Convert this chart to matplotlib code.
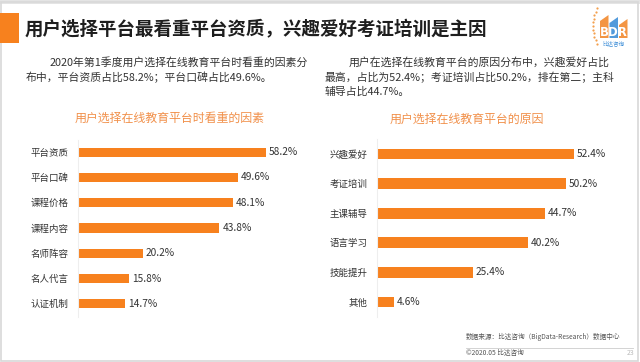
import matplotlib
matplotlib.use('Agg')
import matplotlib.pyplot as plt
from matplotlib.patches import Rectangle, Polygon

plt.rcParams['font.family'] = ['Noto Sans CJK SC', 'DejaVu Sans']

# ---------------- data ----------------
left_title = '用户选择在线教育平台时看重的因素'
left_cats = ['平台资质', '平台口碑', '课程价格', '课程内容', '名师阵容', '名人代言', '认证机制']
left_vals = [58.2, 49.6, 48.1, 43.8, 20.2, 15.8, 14.7]

right_title = '用户选择在线教育平台的原因'
right_cats = ['兴趣爱好', '考证培训', '主课辅导', '语言学习', '技能提升', '其他']
right_vals = [52.4, 50.2, 44.7, 40.2, 25.4, 4.6]

main_title = '用户选择平台最看重平台资质，兴趣爱好考证培训是主因'
left_text = ['2020年第1季度用户选择在线教育平台时看重的因素分',
             '布中，平台资质占比58.2%；平台口碑占比49.6%。']
right_text = ['用户在选择在线教育平台的原因分布中，兴趣爱好占比',
              '最高，占比为52.4%；考证培训占比50.2%，排在第二；主科',
              '辅导占比44.7%。']
source_text = '数据来源：比达咨询（BigData-Research）数据中心'
copy_text = '©2020.05 比达咨询'
page_no = '23'

bar_col = '#F7811E'
title_col = '#F1904A'
text_col = '#333333'

W, H = 640, 362
fig = plt.figure(figsize=(6.4, 3.62), dpi=100)
fig.patch.set_facecolor('white')

def px(x, y):
    return x / W, 1 - y / H

def add_ax(left, top, width, height):
    return fig.add_axes([left / W, 1 - (top + height) / H, width / W, height / H])

# frame / header
fig.patches.append(Rectangle((0, 1 - 4 / H), 1, 4 / H, transform=fig.transFigure,
                             facecolor='#E4E4E4', edgecolor='none'))
fig.patches.append(Rectangle((0.5 / W, 1.5 / H), (W - 3) / W, (H - 3) / H, transform=fig.transFigure,
                             facecolor='none', edgecolor='#D8D8D8', lw=1.2))
fig.patches.append(Rectangle(px(0, 43), 19 / W, 30 / H, transform=fig.transFigure,
                             facecolor='#F7811E', edgecolor='none'))
fig.text(*px(25, 30), main_title, fontsize=13.3, fontweight='bold', color='#1E1E1E',
         va='center', ha='left')

# logo
lx, ly = 592, 7
for i, c in enumerate(['#F28A2E', '#3F8FD8', '#F28A2E']):
    x0 = lx + 8 + i * 9.5
    pts = [px(x0, ly + 31), px(x0, ly + 14 + i * 2), px(x0 + 8.5, ly + 8 + i * 2), px(x0 + 8.5, ly + 31)]
    fig.patches.append(Polygon(pts, closed=True, transform=fig.transFigure,
                               facecolor=c, edgecolor='none', alpha=0.9))
fig.text(*px(lx + 22, ly + 25), 'BDR', fontsize=8.5, fontweight='bold', color='white',
         ha='center', va='center', family='DejaVu Sans')
fig.text(*px(lx + 22, ly + 36), '比达咨询', fontsize=4, color='#3F8FD8', ha='center', va='center')
dot_x = [(lx + 5 - 4 * (1 - ((k - 5) / 5.0) ** 2)) / W for k in range(11)]
dot_y = [1 - (ly + 1 + k * 3.6) / H for k in range(11)]
fig.lines.append(plt.Line2D(dot_x, dot_y, transform=fig.transFigure, ls='none',
                            marker='o', ms=1.6, color='#F3A04E', mec='none'))

# paragraphs
fig.text(*px(50, 62), left_text[0], fontsize=7.8, color=text_col, va='center', ha='left')
fig.text(*px(26, 77), left_text[1], fontsize=7.8, color=text_col, va='center', ha='left')
fig.text(*px(349, 62), right_text[0], fontsize=7.8, color=text_col, va='center', ha='left')
fig.text(*px(325, 77), right_text[1], fontsize=7.8, color=text_col, va='center', ha='left')
fig.text(*px(325, 92), right_text[2], fontsize=7.8, color=text_col, va='center', ha='left')

# chart titles
fig.text(*px(170, 118), left_title, fontsize=8.6, color=title_col, ha='center', va='center')
fig.text(*px(467, 119), right_title, fontsize=8.6, color=title_col, ha='center', va='center')

def bar_panel(ax, cats, vals, xmax, bh):
    n = len(cats)
    ypos = list(range(n))
    ax.barh(ypos, vals, height=bh, color=bar_col, edgecolor='none')
    ax.set_xlim(0, xmax)
    ax.set_ylim(n - 0.5, -0.5)
    ax.set_yticks(ypos)
    ax.set_yticklabels(cats, fontsize=6.8, color=text_col)
    ax.set_xticks([])
    ax.tick_params(axis='y', length=0, pad=7)
    for s in ['top', 'right', 'bottom']:
        ax.spines[s].set_visible(False)
    ax.spines['left'].set_color('#EEEEEE')
    ax.patch.set_alpha(0)
    for y, v in zip(ypos, vals):
        ax.annotate('%.1f%%' % v, (v, y), xytext=(2, 0), textcoords='offset points',
                    fontsize=7.3, color=text_col, va='center', ha='left')

ax_l = add_ax(78, 139.5, 220, 177)
bar_panel(ax_l, left_cats, left_vals, 220 / 3.23, 0.36)

ax_r = add_ax(377, 139.2, 220, 177.6)
bar_panel(ax_r, right_cats, right_vals, 220 / 3.76, 0.37)

# footer
fig.text(*px(466, 337), source_text, fontsize=4.8, color='#555555', ha='left', va='center')
fig.lines.append(plt.Line2D([466 / W, 633 / W], [1 - 348 / H, 1 - 348 / H],
                            transform=fig.transFigure, color='#CCCCCC', lw=0.6))
fig.text(*px(466, 353), copy_text, fontsize=4.8, color='#555555', ha='left', va='center')
fig.text(*px(634, 353), page_no, fontsize=5, color='#BBBBBB', ha='right', va='center')

fig.savefig('out.png', dpi=100, facecolor='white')
